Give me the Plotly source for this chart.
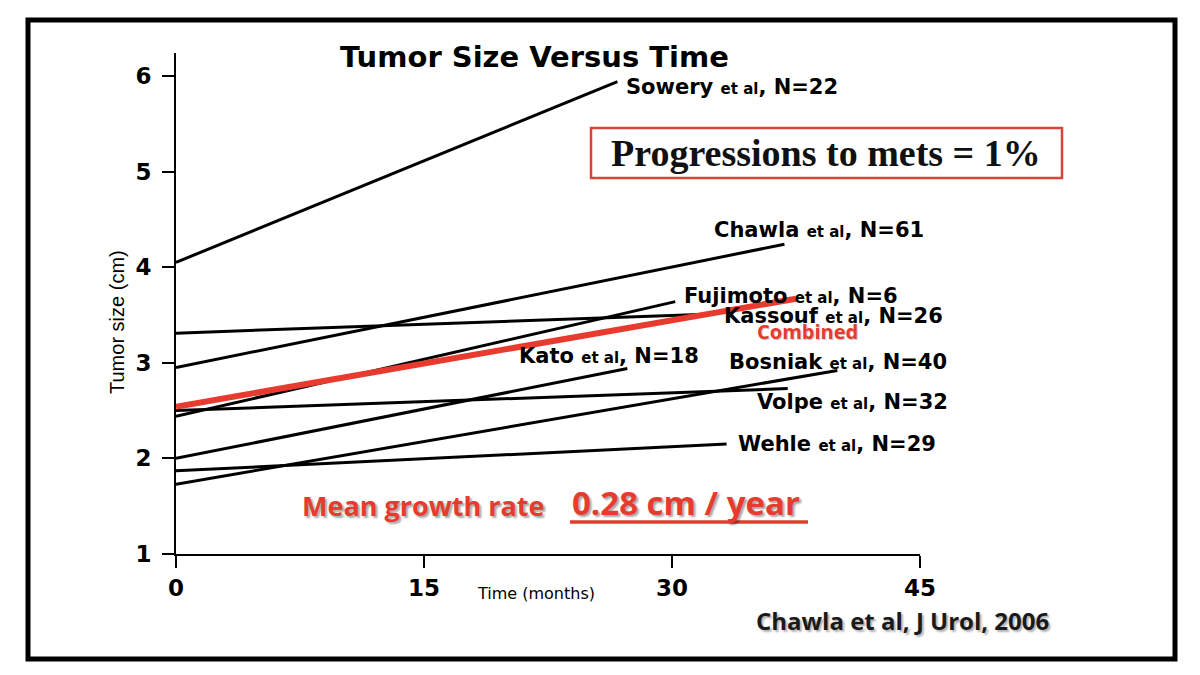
import plotly.graph_objects as go

# ---------------- data ----------------
studies = ["Sowery", "Chawla", "Kassouf", "Fujimoto", "Volpe", "Kato", "Bosniak", "Wehle"]
n_patients = [22, 61, 26, 6, 32, 18, 40, 29]
start_month = [0, 0, 0, 0, 0, 0, 0, 0]
end_month = [26.7, 36.8, 32.5, 30.2, 37.0, 27.3, 40.0, 33.3]
start_size = [4.05, 2.95, 3.31, 2.44, 2.50, 2.00, 1.73, 1.87]
end_size = [5.94, 4.24, 3.51, 3.64, 2.73, 2.94, 2.92, 2.15]

combined_month = [0, 37.5]
combined_size = [2.54, 3.67]

x_ticks = [0, 15, 30, 45]
y_ticks = [1, 2, 3, 4, 5, 6]

# label anchor positions (data coords, left edge / vertical centre)
label_x = [27.1, 32.4, 33.0, 30.6, 35.0, 20.6, 33.3, 33.9]
label_y = [5.885, 4.39, 3.49, 3.70, 2.595, 3.075, 3.01, 2.155]
combined_label_pos = (35.0, 3.33)

# ---------------- figure ----------------
W, H = 1200, 675
L, R, T, B = 176, 280, 53, 121
PW, PH = W - L - R, H - T - B


def px(xp):
    return (xp - L) / PW


def py(yp):
    return (H - B - yp) / PH


RED = "#e63b2e"
LABEL_FONT = "DejaVu Sans"
COMIC = "Open Sans"

fig = go.Figure()

for i, s in enumerate(studies):
    fig.add_trace(go.Scatter(
        x=[start_month[i], end_month[i]], y=[start_size[i], end_size[i]],
        mode="lines", line=dict(color="black", width=3),
        name=s, showlegend=False, hoverinfo="skip"))

fig.add_trace(go.Scatter(
    x=combined_month, y=combined_size, mode="lines",
    line=dict(color=RED, width=6), name="Combined",
    showlegend=False, hoverinfo="skip"))

annotations = []
for i, s in enumerate(studies):
    annotations.append(dict(
        x=label_x[i], y=label_y[i], xref="x", yref="y",
        xanchor="left", yanchor="middle", showarrow=False,
        text=f"<b>{s} <span style='font-size:15px'>et al</span>, N={n_patients[i]}</b>",
        font=dict(family=LABEL_FONT, size=21, color="black")))

annotations.append(dict(
    x=combined_label_pos[0], y=combined_label_pos[1], xref="x", yref="y",
    xanchor="left", yanchor="middle", showarrow=False, text="<b>Combined</b>",
    font=dict(family=COMIC, size=20, color=RED,
              shadow="1px 1px 1px rgba(0,0,0,0.25)")))

# title
annotations.append(dict(
    x=px(534), y=py(57), xref="paper", yref="paper", showarrow=False,
    xanchor="center", yanchor="middle", text="<b>Tumor Size Versus Time</b>",
    font=dict(family=LABEL_FONT, size=29, color="black")))

# boxed statement
annotations.append(dict(
    x=px(826), y=py(153), xref="paper", yref="paper", showarrow=False,
    xanchor="center", yanchor="middle", text="<b>Progressions to mets = 1%</b>",
    font=dict(family="Liberation Serif", size=38, color="#111111")))

# mean growth rate
annotations.append(dict(
    x=px(300), y=py(505), xref="paper", yref="paper", showarrow=False,
    xanchor="left", yanchor="middle", text="<b>Mean growth rate</b>",
    font=dict(family=COMIC, size=27, color=RED,
              shadow="2px 2px 2px rgba(0,0,0,0.35)")))
annotations.append(dict(
    x=px(570), y=py(502), xref="paper", yref="paper", showarrow=False,
    xanchor="left", yanchor="middle", text="<b>0.28 cm / year</b>",
    font=dict(family=COMIC, size=33, color=RED,
              shadow="2px 2px 2px rgba(0,0,0,0.35)")))

# citation
annotations.append(dict(
    x=px(902), y=py(620), xref="paper", yref="paper", showarrow=False,
    xanchor="center", yanchor="middle", text="<b>Chawla et al, J Urol, 2006</b>",
    font=dict(family=COMIC, size=24, color="#1a1a1a",
              shadow="2px 2px 2px rgba(0,0,0,0.3)")))

# axis titles
annotations.append(dict(
    x=px(117), y=py(322), xref="paper", yref="paper", showarrow=False,
    xanchor="center", yanchor="middle", textangle=-90, text="Tumor size (cm)",
    font=dict(family="Liberation Sans Narrow, Liberation Sans", size=20, color="black")))
annotations.append(dict(
    x=px(536), y=py(593), xref="paper", yref="paper", showarrow=False,
    xanchor="center", yanchor="middle", text="Time (months)",
    font=dict(family=LABEL_FONT, size=16, color="black")))

shapes = [
    # slide frame
    dict(type="rect", xref="paper", yref="paper",
         x0=px(28), x1=px(1175), y0=py(659), y1=py(20),
         line=dict(color="black", width=5), fillcolor="rgba(0,0,0,0)", layer="above"),
    # red box
    dict(type="rect", xref="paper", yref="paper",
         x0=px(591), x1=px(1062), y0=py(178), y1=py(128),
         line=dict(color="#d5453a", width=2.5), fillcolor="rgba(0,0,0,0)"),
    # underline
    dict(type="line", xref="paper", yref="paper",
         x0=px(570), x1=px(808), y0=py(522), y1=py(522),
         line=dict(color=RED, width=3.5)),
]

fig.update_layout(
    width=W, height=H,
    margin=dict(l=L, r=R, t=T, b=B, pad=0),
    paper_bgcolor="white", plot_bgcolor="white",
    annotations=annotations, shapes=shapes,
    xaxis=dict(range=[0, 45], tickvals=x_ticks,
               ticktext=[f"<b>{v}</b>" for v in x_ticks],
               showline=True, linecolor="black", linewidth=2,
               ticks="outside", ticklen=12, tickwidth=2, tickcolor="black",
               showgrid=False, zeroline=False,
               tickfont=dict(family=LABEL_FONT, size=23, color="black")),
    yaxis=dict(range=[1, 6.24], tickvals=y_ticks,
               ticktext=[f"<b>{v}</b>" for v in y_ticks],
               showline=True, linecolor="black", linewidth=2,
               ticks="outside", ticklen=12, tickwidth=2, tickcolor="black",
               showgrid=False, zeroline=False, ticklabelstandoff=6,
               tickfont=dict(family=LABEL_FONT, size=23, color="black")),
)

fig.write_html("out.html")
